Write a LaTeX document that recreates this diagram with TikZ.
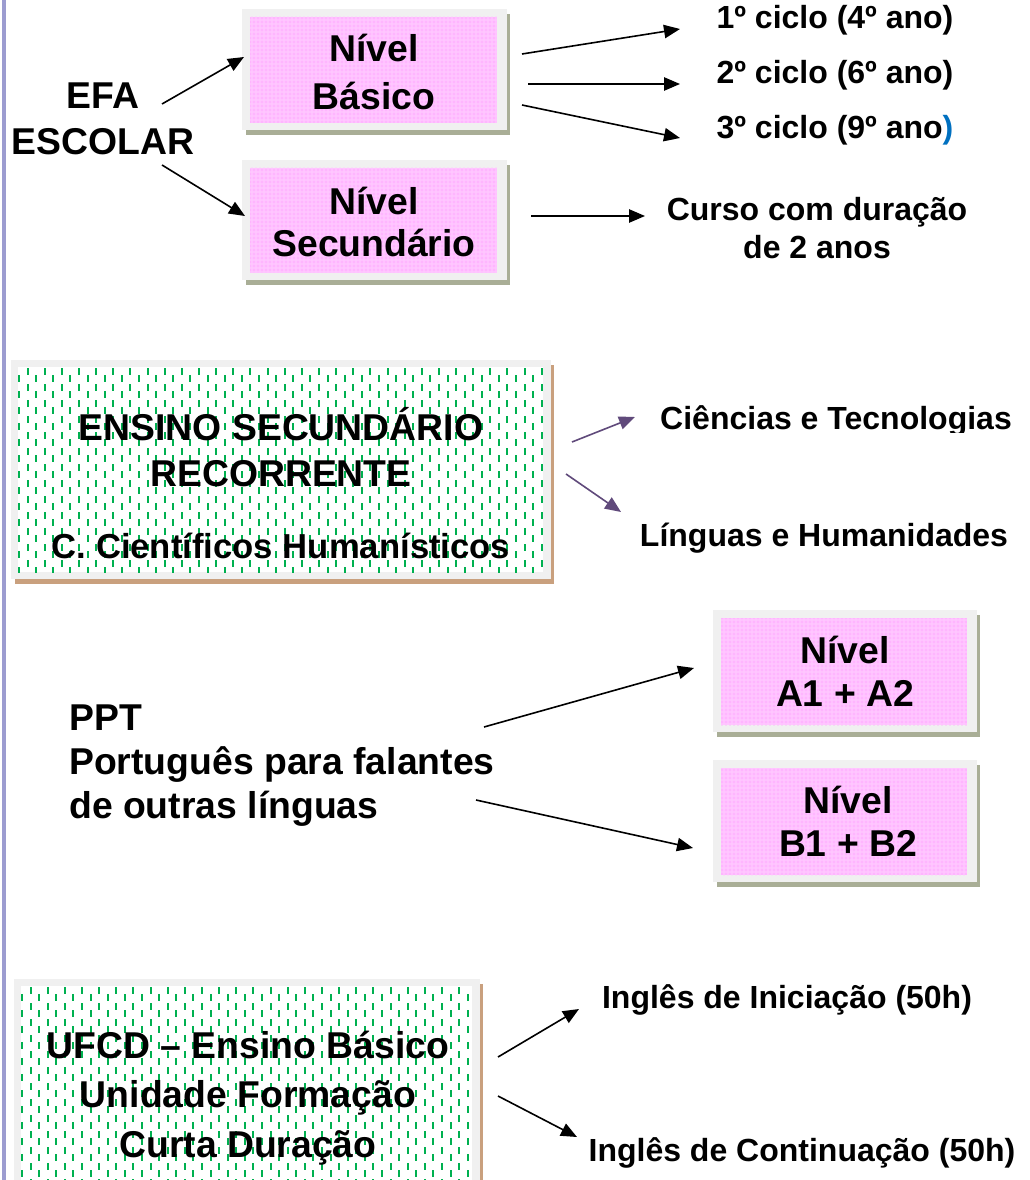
\documentclass[tikz,border=0pt]{standalone}
\usepackage{fontspec}
\setmainfont{Liberation Sans}
\usetikzlibrary{arrows.meta,patterns}
\definecolor{framegray}{HTML}{F0F0F0}
\definecolor{shadolive}{HTML}{A9AE96}
\definecolor{shadbrown}{HTML}{C9A07E}
\definecolor{pinkbase}{HTML}{FFC2FF}
\definecolor{pinkdot}{HTML}{FF8CFF}
\definecolor{dashgreen}{HTML}{00B050}
\definecolor{lavline}{HTML}{9C9CD0}
\definecolor{purp}{HTML}{604A7B}
\definecolor{blueparen}{HTML}{0070C0}
\newcommand{\pinkbx}[4]{%
  \fill[shadolive] (#1+4,#2+5) rectangle (#3+3,#4+5);
  \fill[framegray] (#1,#2) rectangle (#3,#4);
  \fill[pinkbase] (#1+8,#2+8) rectangle (#3-10,#4-7);
  \fill[pattern=crosshatch dots, pattern color=pinkdot] (#1+8,#2+8) rectangle (#3-10,#4-7);
  \fill[pattern=dots, pattern color=white] (#1+8,#2+8) rectangle (#3-10,#4-7);
}
\newcommand{\greenbx}[4]{%
  \fill[shadbrown] (#1+4,#2+5) rectangle (#3+3,#4+5);
  \fill[framegray] (#1,#2) rectangle (#3,#4);
  \fill[white] (#1+7,#2+7) rectangle (#3-8,#4-7);
  \begin{scope}
    \clip (#1+7,#2+7) rectangle (#3-8,#4-7);
    \pgfmathtruncatemacro\ncols{(#3-#1-15)/8.57}
    \foreach \i in {0,...,\ncols}{
      \pgfmathsetmacro\xx{#1+8+\i*8.57}
      \pgfmathsetmacro\yy{mod(\i,2)==0 ? #2+15 : #2+8}
      \draw[dashgreen, line width=1.5pt, dash pattern=on 5.25pt off 6.75pt] (\xx,\yy) -- (\xx,#4);
    }
  \end{scope}
}
\tikzset{
  big/.style={font=\bfseries\fontsize{28}{36}\selectfont, align=center, inner sep=0pt},
  small/.style={font=\bfseries\fontsize{24}{29}\selectfont, align=center, inner sep=0pt},
  arr/.style={-{Triangle[length=12pt,width=10pt]}, line width=1.2pt, black},
  parr/.style={arr, draw=purp, fill=purp},
}
\begin{document}
\begin{tikzpicture}[x=0.75pt, y=-0.75pt]
\useasboundingbox (0,0) rectangle (1029,1180);
\fill[white] (0,0) rectangle (1029,1180);
\draw[lavline, line width=2.3pt] (4,0) -- (4,1180);

% boxes
\pinkbx{242}{9}{507}{130}
\pinkbx{242}{160}{507}{280}
\pinkbx{713}{610}{977}{732}
\pinkbx{713}{760}{977}{882}
\greenbx{11}{360}{551}{579}
\greenbx{14}{979}{480}{1192}

% texts
\node[big, font=\bfseries\fontsize{28}{35}\selectfont] (efa) at (103,119) {EFA\\ESCOLAR};
\node[big] (bas) at (374,72) {Nível\\Básico};
\node[big, font=\bfseries\fontsize{28}{32}\selectfont] (sec) at (374,222) {Nível\\Secundário};
\node[small] (c1) at (835,20) {1º ciclo (4º ano)};
\node[small] (c2) at (835,75) {2º ciclo (6º ano)};
\node[small] (c3) at (835,130) {3º ciclo (9º ano\textcolor{blueparen}{)}};
\node[small] (curso) at (817,228) {Curso com duração\\de 2 anos};
\node[big, font=\bfseries\fontsize{28}{34.5}\selectfont] (ens) at (281,447) {ENSINO SECUNDÁRIO\\RECORRENTE};
\node[big, font=\bfseries\fontsize{26}{30}\selectfont] (ensc) at (281,546) {C. Científicos Humanísticos};
\begin{scope}
  \clip (600,380) rectangle (1029,432);
  \node[small] (cien) at (836,421) {Ciências e Tecnologias};
\end{scope}
\node[small] (ling) at (824,538) {Línguas e Humanidades};
\node[big, align=left, anchor=west, font=\bfseries\fontsize{28}{33}\selectfont] (ppt) at (69,766) {PPT\\Português para falantes\\de outras línguas};
\node[big, font=\bfseries\fontsize{28}{32}\selectfont] (na) at (845,671) {Nível\\A1 + A2};
\node[big, font=\bfseries\fontsize{28}{32}\selectfont] (nb) at (848,821) {Nível\\B1 + B2};
\node[big, font=\bfseries\fontsize{28}{37}\selectfont] (ufcd) at (248,1098) {UFCD – Ensino Básico\\Unidade Formação\\Curta Duração};
\node[small] (ini) at (787,1000) {Inglês de Iniciação (50h)};
\node[small] (cont) at (802,1153) {Inglês de Continuação (50h)};

% connector end points
\coordinate (efa1) at (162,104); \coordinate (bas1) at (244,57);
\coordinate (efa2) at (162,165); \coordinate (sec1) at (245,216);
\coordinate (bas2) at (522,54);  \coordinate (c1e) at (680,29);
\coordinate (bas3) at (528,84);  \coordinate (c2e) at (680,84);
\coordinate (bas4) at (522,105); \coordinate (c3e) at (680,138);
\coordinate (sec2) at (531,216); \coordinate (cursoe) at (645,216);
\coordinate (ens1) at (572,442); \coordinate (ciene) at (635,417);
\coordinate (ens2) at (566,474); \coordinate (linge) at (621,512);
\coordinate (ppt1) at (484,727); \coordinate (nae) at (694,668);
\coordinate (ppt2) at (476,800); \coordinate (nbe) at (693,848);
\coordinate (uf1) at (498,1057); \coordinate (inie) at (579,1009);
\coordinate (uf2) at (498,1096); \coordinate (conte) at (577,1137);

\draw[arr] (efa1) -- (bas1);
\draw[arr] (efa2) -- (sec1);
\draw[arr] (bas2) -- (c1e);
\draw[arr] (bas3) -- (c2e);
\draw[arr] (bas4) -- (c3e);
\draw[arr] (sec2) -- (cursoe);
\draw[parr] (ens1) -- (ciene);
\draw[parr] (ens2) -- (linge);
\draw[arr] (ppt1) -- (nae);
\draw[arr] (ppt2) -- (nbe);
\draw[arr] (uf1) -- (inie);
\draw[arr] (uf2) -- (conte);
\end{tikzpicture}
\end{document}
